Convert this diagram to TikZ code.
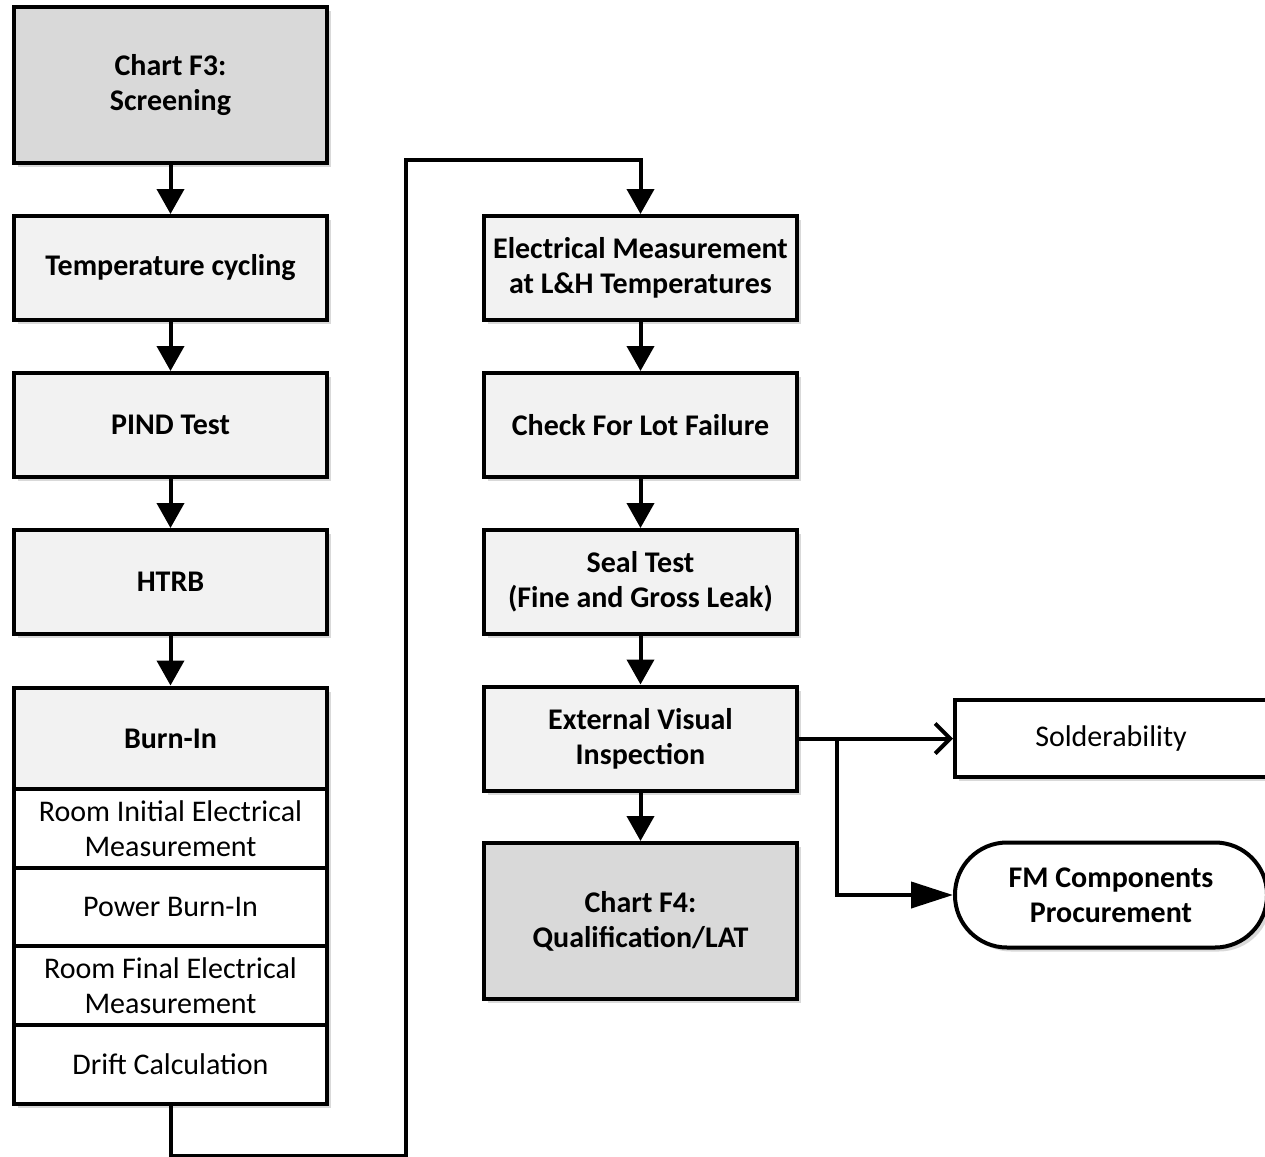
\documentclass[tikz,border=0pt]{standalone}
\usepackage{fontspec}
\setmainfont{Carlito}
\usetikzlibrary{arrows.meta,shadows}

\tikzset{
  cell/.style={draw, line width=2pt, inner sep=0pt, align=center,
    minimum width=156.5pt, font=\fontsize{15}{17.5}\selectfont,
    drop shadow={shadow xshift=2pt, shadow yshift=-2pt, fill=black!15, opacity=1}},
  step box/.style={cell, fill=black!5, font=\fontsize{15}{17.5}\selectfont\bfseries, minimum height=52pt},
  chart box/.style={step box, fill=black!15, minimum height=78pt},
  sub box/.style={cell, fill=white, minimum height=39.5pt},
  flow/.style={line width=2pt, -{Triangle[length=12.5pt,width=13.5pt]}},
  link/.style={line width=2pt}
}

\begin{document}
\begin{tikzpicture}[x=0.5pt,y=-0.5pt]
  \useasboundingbox (0,0) rectangle (1265,1157);

  \node[chart box] (f3) at (170.5,85) {Chart F3:\\Screening};
  \node[step box] (temp) at (170.5,268) {Temperature cycling};
  \node[step box] (pind) at (170.5,425) {PIND Test};
  \node[step box] (htrb) at (170.5,582) {HTRB};
  \node[step box, minimum height=51pt] (burn) at (170.5,738.5) {Burn-In};
  \node[sub box] (initial) at (170.5,828.5) {Room Initial Electrical\\Measurement};
  \node[sub box] (power) at (170.5,907) {Power Burn-In};
  \node[sub box] (final) at (170.5,985.5) {Room Final Electrical\\Measurement};
  \node[sub box] (drift) at (170.5,1064.5) {Drift Calculation};

  \node[step box] (elec) at (640.5,268) {Electrical Measurement\\at L\&H Temperatures};
  \node[step box] (lot) at (640.5,425) {Check For Lot Failure};
  \node[step box] (seal) at (640.5,582) {Seal Test\\(Fine and Gross Leak)};
  \node[step box] (visual) at (640.5,738.5) {External Visual\\Inspection};
  \node[chart box] (f4) at (640.5,921) {Chart F4:\\Qualification/LAT};

  \node[sub box, minimum width=156pt, minimum height=38.5pt] (solder) at (1111,738.5) {Solderability};
  \node[cell, fill=white, font=\fontsize{15}{17.5}\selectfont\bfseries, minimum width=156pt,
    minimum height=52.5pt, rounded corners=26pt] (fm) at (1111,895) {FM Components\\Procurement};

  \coordinate (turn) at (406,160);
  \coordinate (split) at (837,738.5);

  \draw[flow] (f3) -- (temp);
  \draw[flow] (temp) -- (pind);
  \draw[flow] (pind) -- (htrb);
  \draw[flow] (htrb) -- (burn);
  \draw[flow] (drift.south) -- ++(0,50) -| (turn) -| (elec.north);
  \draw[flow] (elec) -- (lot);
  \draw[flow] (lot) -- (seal);
  \draw[flow] (seal) -- (visual);
  \draw[flow] (visual) -- (f4);
  \draw[link, -{Straight Barb[length=7.5pt,width=15pt]}] (visual.east) -- (solder.west);
  \draw[link, -{Triangle[length=21pt,width=13pt]}] (split) |- (fm.west);
\end{tikzpicture}
\end{document}
